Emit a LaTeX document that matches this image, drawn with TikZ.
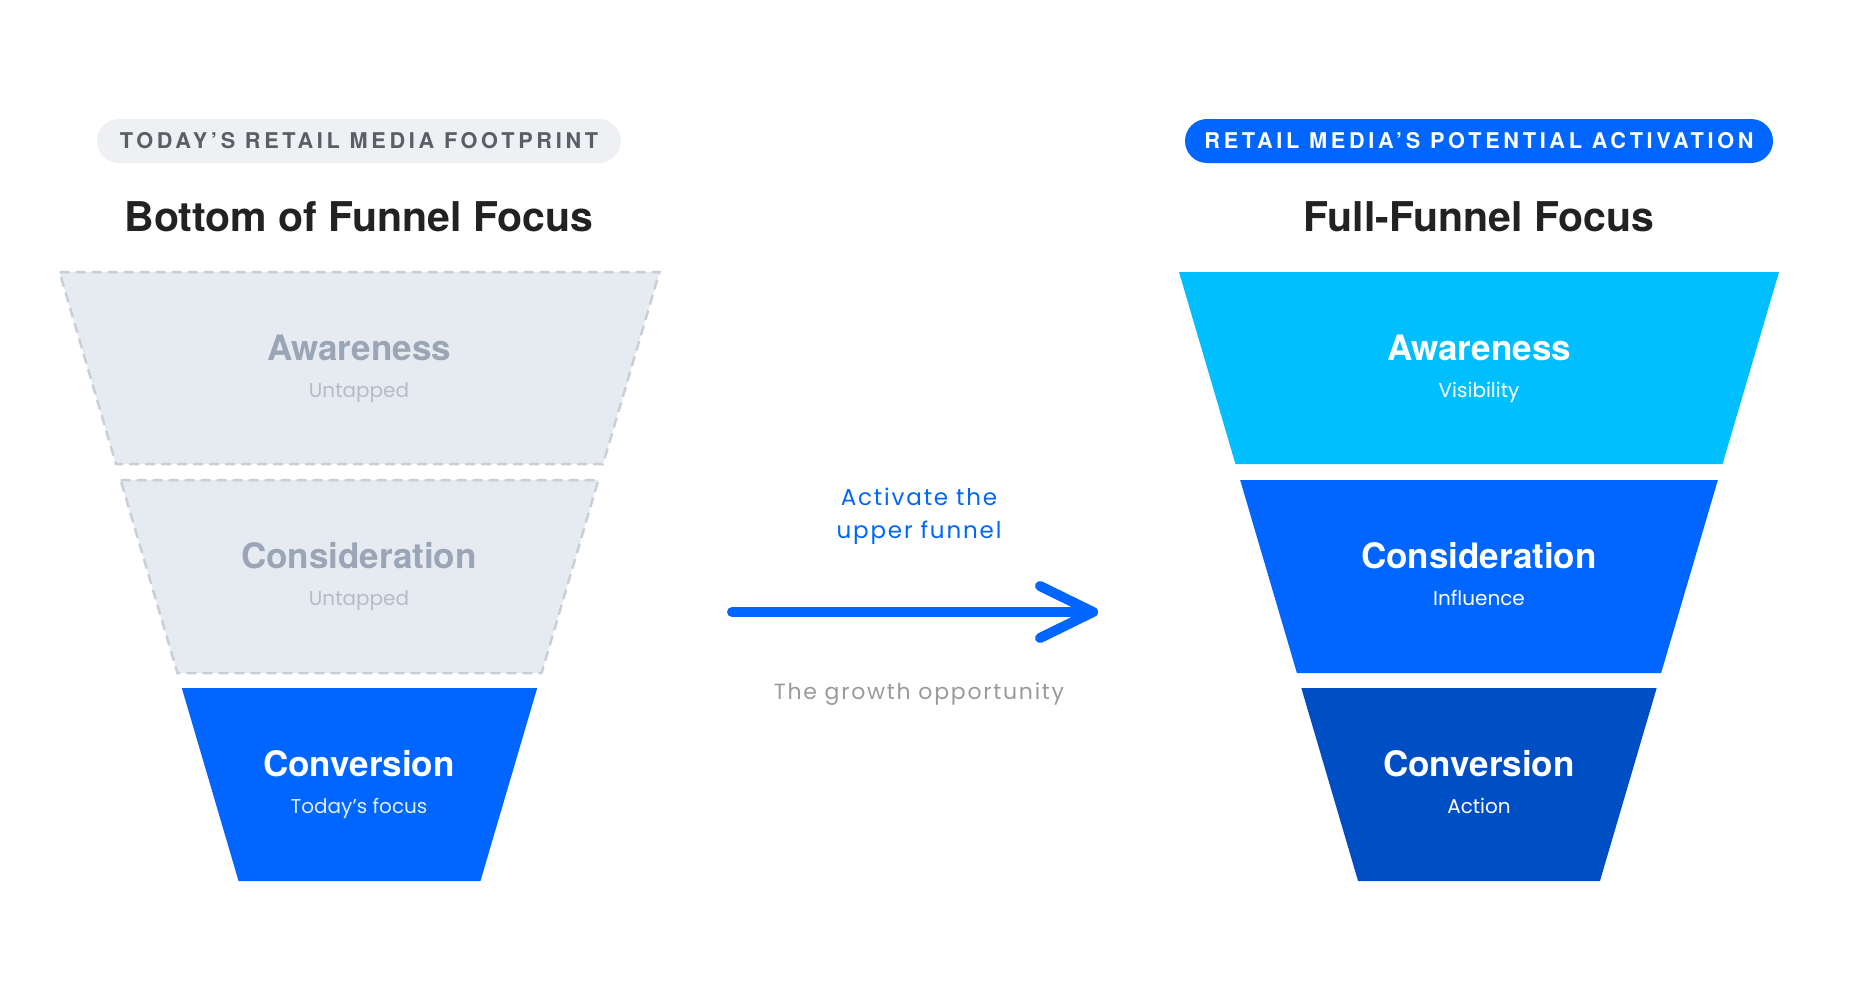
\documentclass[tikz,border=0pt]{standalone}
\usepackage{fontspec}
\setmainfont{TeX Gyre Heros}
\newfontfamily\qfont{Poppins}
\definecolor{pillgray}{HTML}{EEF0F4}
\definecolor{pilltext}{HTML}{5A5F66}
\definecolor{brightblue}{HTML}{0066FF}
\definecolor{cyanblue}{HTML}{00BFFF}
\definecolor{darkblue}{HTML}{004EC4}
\definecolor{ghostfill}{HTML}{E6EAF1}
\definecolor{ghostline}{HTML}{C9CFD9}
\definecolor{ghosttext}{HTML}{9AA5B5}
\definecolor{ghostsub}{HTML}{B5BCC7}
\definecolor{titletext}{HTML}{222222}
\definecolor{growthgray}{HTML}{9A9A9A}
\newcommand{\trap}[4]{% cx, ytop, ybot, style
  \pgfmathsetmacro{\hwt}{300-0.294*(#2-272)}
  \pgfmathsetmacro{\hwb}{300-0.294*(#3-272)}
  \path[#4] (#1-\hwt,#2) -- (#1+\hwt,#2) -- (#1+\hwb,#3) -- (#1-\hwb,#3) -- cycle;
}
\begin{document}
\begin{tikzpicture}[x=1pt,y=-1pt,
  pill/.style={rounded corners=22pt, minimum height=44pt, inner sep=0pt,
    font=\bfseries\addfontfeatures{LetterSpace=17}\fontsize{21.7}{21.7}\selectfont},
  titlelbl/.style={font=\bfseries\fontsize{41}{41}\selectfont, text=titletext},
  mainlbl/.style={font=\bfseries\fontsize{35}{35}\selectfont},
  sublbl/.style={font=\qfont\fontsize{20}{20}\selectfont, text height=15pt, text depth=5pt},
  ghost/.style={fill=ghostfill, draw=ghostline, line width=2.5pt, dash pattern=on 10pt off 6pt},
  arrowline/.style={draw=brightblue, line width=10pt, line cap=round, line join=round}
]
\path[use as bounding box] (0,0) rectangle (1864,985);

% ---------- left side ----------
\node[pill, fill=pillgray, text=pilltext, minimum width=524pt] (lpill) at (359,141) {TODAY’S RETAIL MEDIA FOOTPRINT};
\node[titlelbl] (ltitle) at (359,217) {Bottom of Funnel Focus};

\trap{359.5}{272}{464}{ghost}
\trap{359.5}{480}{673}{ghost}
\trap{359.5}{688}{881}{fill=brightblue}

\node[mainlbl, text=ghosttext] (lawa) at (359,348) {Awareness};
\node[sublbl, text=ghostsub] (lawas) at (359,392) {Untapped};
\node[mainlbl, text=ghosttext] (lcon) at (359,556) {Consideration};
\node[sublbl, text=ghostsub] (lcons) at (359,600) {Untapped};
\node[mainlbl, text=white] (lconv) at (359,764) {Conversion};
\node[sublbl, text=white!88!brightblue] (lconvs) at (359,808) {Today’s focus};

% ---------- right side ----------
\node[pill, fill=brightblue, text=white, minimum width=588pt] (rpill) at (1479,141) {RETAIL MEDIA’S POTENTIAL ACTIVATION};
\node[titlelbl] (rtitle) at (1479,217) {Full-Funnel Focus};

\trap{1479}{272}{464}{fill=cyanblue}
\trap{1479}{480}{673}{fill=brightblue}
\trap{1479}{688}{881}{fill=darkblue}

\node[mainlbl, text=white] (rawa) at (1479,348) {Awareness};
\node[sublbl, text=white] (rawas) at (1479,392) {Visibility};
\node[mainlbl, text=white] (rcon) at (1479,556) {Consideration};
\node[sublbl, text=white] (rcons) at (1479,600) {Influence};
\node[mainlbl, text=white] (rconv) at (1479,764) {Conversion};
\node[sublbl, text=white] (rconvs) at (1479,808) {Action};

% ---------- middle ----------
\node[font=\qfont\addfontfeatures{LetterSpace=8}\fontsize{23}{33}\selectfont, text=brightblue, align=center] (act) at (919,516) {Activate the\\upper funnel};
\coordinate (arS) at (732,612);
\coordinate (arE) at (1093,612);
\coordinate (arU) at (1040,586);
\coordinate (arD) at (1040,638);
\draw[arrowline] (arS) -- (arE);
\draw[arrowline] (arU) -- (arE) -- (arD);
\node[font=\qfont\addfontfeatures{LetterSpace=8}\fontsize{22}{22}\selectfont, text=growthgray] (grow) at (919,694) {The growth opportunity};
\end{tikzpicture}
\end{document}
